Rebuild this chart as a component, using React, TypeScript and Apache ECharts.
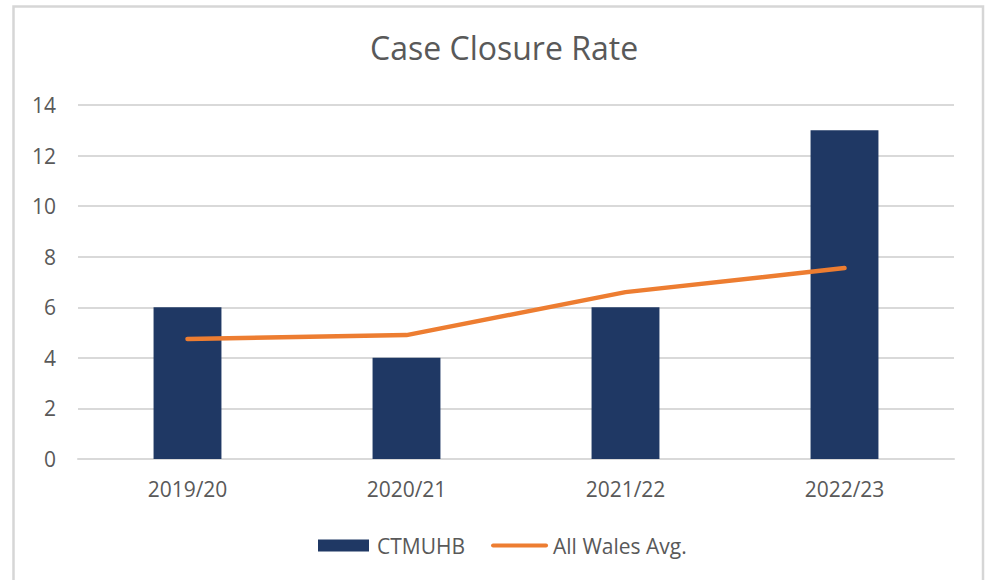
import React, { useEffect, useRef } from "react";
import * as echarts from "echarts";

const categories = ["2019/20", "2020/21", "2021/22", "2022/23"];
const ctmuhb = [6, 4, 6, 13];
const allWalesAvg = [4.75, 4.9, 6.6, 7.55];

const FONT = "Open Sans";
const TEXT = "#595959";

export default function App() {
  const ref = useRef<HTMLDivElement>(null);
  useEffect(() => {
    if (!ref.current) return;
    const chart = echarts.init(ref.current, null, { renderer: "svg" });
    chart.setOption({
      animation: false,
      backgroundColor: "#ffffff",
      graphic: [
        {
          type: "rect",
          shape: { x: 13.5, y: 6.5, width: 969.5, height: 600 },
          style: { fill: "none", stroke: "#d6d6d6", lineWidth: 2.5 },
          silent: true,
        },
      ],
      title: {
        text: "Case Closure Rate",
        left: 365,
        top: 26,
        textStyle: { fontFamily: FONT, fontSize: 32, fontWeight: "normal", color: TEXT },
      },
      legend: {
        top: 530,
        left: 313,
        itemWidth: 57,
        itemHeight: 12,
        itemGap: 26,
        textStyle: { fontFamily: FONT, fontSize: 21, color: TEXT },
        data: [
          {
            name: "CTMUHB",
            icon: "path://M0,0 L51,0 L51,12 L0,12 Z",
            itemStyle: { color: "#1F3864", borderWidth: 0 },
          },
          {
            name: "All Wales Avg.",
            icon: "path://M0,2 A2,2 0 0 1 2,0 L55,0 A2,2 0 0 1 55,4 L2,4 A2,2 0 0 1 0,2 Z",
            itemStyle: { color: "#ED7D31", borderWidth: 0 },
          },
        ],
      },
      grid: { left: 78, right: 31, top: 105, bottom: 121 },
      xAxis: {
        type: "category",
        data: categories,
        axisLine: { show: true, lineStyle: { color: "#d9d9d9", width: 2 } },
        axisTick: { show: false },
        axisLabel: { fontFamily: FONT, fontSize: 21, color: TEXT, margin: 19 },
      },
      yAxis: {
        type: "value",
        min: 0,
        max: 14,
        interval: 2,
        axisLine: { show: false },
        axisTick: { show: false },
        splitLine: { lineStyle: { color: "#d9d9d9", width: 2 } },
        axisLabel: { fontFamily: FONT, fontSize: 21, color: TEXT, margin: 22 },
      },
      series: [
        {
          name: "CTMUHB",
          type: "bar",
          data: ctmuhb,
          barWidth: "31%",
          itemStyle: { color: "#1F3864" },
        },
        {
          name: "All Wales Avg.",
          type: "line",
          data: allWalesAvg,
          symbol: "none",
          lineStyle: { color: "#ED7D31", width: 4.5, cap: "round" },
          itemStyle: { color: "#ED7D31" },
        },
      ],
    });
    return () => chart.dispose();
  }, []);
  return (
    <div
      ref={ref}
      style={{ position: "fixed", left: 0, top: 0, width: 985, height: 580 }}
    />
  );
}
